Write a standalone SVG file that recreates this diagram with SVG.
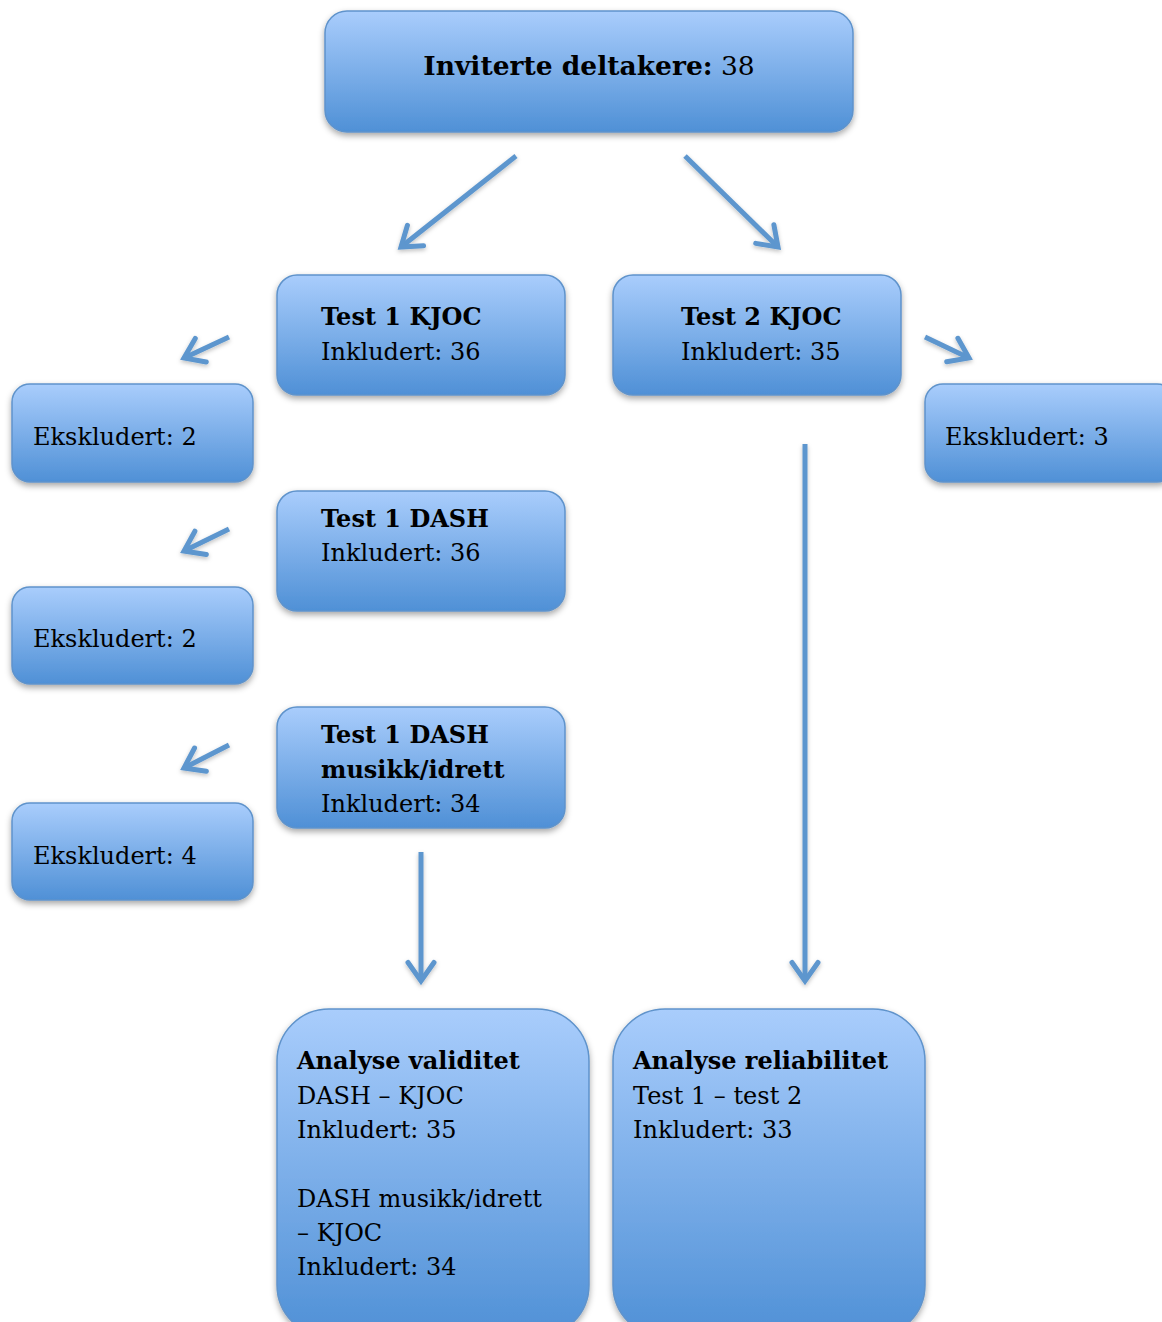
<svg xmlns="http://www.w3.org/2000/svg" width="1162" height="1322" viewBox="0 0 1162 1322">
<defs>
<linearGradient id="g" x1="0" y1="0" x2="0" y2="1">
<stop offset="0" stop-color="#a9cdfc"/>
<stop offset="1" stop-color="#4f90d6"/>
</linearGradient>
<filter id="sh" x="-10%" y="-10%" width="120%" height="130%">
<feDropShadow dx="0" dy="3" stdDeviation="3" flood-color="#000" flood-opacity="0.35"/>
</filter>
<filter id="ash" filterUnits="userSpaceOnUse" x="0" y="0" width="1162" height="1322">
<feDropShadow dx="0" dy="2" stdDeviation="2" flood-color="#000" flood-opacity="0.25"/>
</filter>
<marker id="ah" markerWidth="8" markerHeight="8" refX="5.5" refY="4" orient="auto" markerUnits="userSpaceOnUse" viewBox="0 0 8 8" overflow="visible">
<path d="M-13,-9 L5.5,4 L-13,17" fill="none" stroke="#5d96ce" stroke-width="5" stroke-linecap="round" stroke-linejoin="miter"/>
</marker>
</defs>
<style>
.box{fill:url(#g);stroke:#5f93cb;stroke-width:1.5;filter:url(#sh)}
.t{font-family:"DejaVu Serif","Liberation Serif",serif;font-size:24px;fill:#000}
.b{font-weight:bold}
.c{fill:none;stroke:#5d96ce;stroke-width:5;marker-end:url(#ah)}
</style>
<rect width="1162" height="1322" fill="#fff"/>
<g id="connectors" filter="url(#ash)">
<path class="c" d="M516,156 L401,247"/>
<path class="c" d="M685,156 L778,247"/>
<path class="c" d="M229,337 L184,358"/>
<path class="c" d="M229,529 L184,551"/>
<path class="c" d="M229,745 L184,768"/>
<path class="c" d="M925,337 L969,358"/>
<path class="c" d="M421,852 L421,981"/>
<path class="c" d="M805,444 L805,981"/>
</g>
<g id="invited">
<rect class="box" x="325" y="11" width="528" height="121" rx="22"/>
<text class="t" x="589" y="75" text-anchor="middle" style="font-size:26.5px"><tspan class="b">Inviterte deltakere:</tspan> 38</text>
</g>
<g id="test1kjoc">
<rect class="box" x="277" y="275" width="288" height="120" rx="20"/>
<text class="t" x="321" y="325"><tspan class="b">Test 1 KJOC</tspan><tspan x="321" y="360">Inkludert: 36</tspan></text>
</g>
<g id="test2kjoc">
<rect class="box" x="613" y="275" width="288" height="120" rx="20"/>
<text class="t" x="681" y="325"><tspan class="b">Test 2 KJOC</tspan><tspan x="681" y="360">Inkludert: 35</tspan></text>
</g>
<g id="eks1">
<rect class="box" x="12" y="384" width="241" height="98" rx="18"/>
<text class="t" x="33" y="445">Ekskludert: 2</text>
</g>
<g id="eks3">
<rect class="box" x="925" y="384" width="250" height="98" rx="18"/>
<text class="t" x="945" y="445">Ekskludert: 3</text>
</g>
<g id="test1dash">
<rect class="box" x="277" y="491" width="288" height="120" rx="20"/>
<text class="t" x="321" y="527"><tspan class="b">Test 1 DASH</tspan><tspan x="321" y="561">Inkludert: 36</tspan></text>
</g>
<g id="eks2">
<rect class="box" x="12" y="587" width="241" height="97" rx="18"/>
<text class="t" x="33" y="647">Ekskludert: 2</text>
</g>
<g id="test1dashmi">
<rect class="box" x="277" y="707" width="288" height="121" rx="20"/>
<text class="t" x="321" y="743"><tspan class="b">Test 1 DASH</tspan><tspan class="b" x="321" y="778">musikk/idrett</tspan><tspan x="321" y="812">Inkludert: 34</tspan></text>
</g>
<g id="eks4">
<rect class="box" x="12" y="803" width="241" height="97" rx="18"/>
<text class="t" x="33" y="864">Ekskludert: 4</text>
</g>
<g id="validitet">
<rect class="box" x="277" y="1009" width="312" height="328" rx="52"/>
<text class="t" x="297" y="1069"><tspan class="b">Analyse validitet</tspan><tspan x="297" y="1104">DASH – KJOC</tspan><tspan x="297" y="1138">Inkludert: 35</tspan><tspan x="297" y="1207">DASH musikk/idrett</tspan><tspan x="297" y="1241">– KJOC</tspan><tspan x="297" y="1275">Inkludert: 34</tspan></text>
</g>
<g id="reliabilitet">
<rect class="box" x="613" y="1009" width="312" height="328" rx="52"/>
<text class="t" x="633" y="1069"><tspan class="b">Analyse reliabilitet</tspan><tspan x="633" y="1104">Test 1 – test 2</tspan><tspan x="633" y="1138">Inkludert: 33</tspan></text>
</g>
</svg>
